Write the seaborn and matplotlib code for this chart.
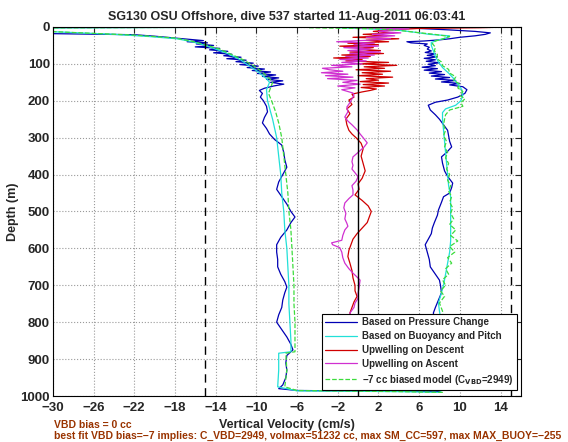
import pandas as pd
import matplotlib
matplotlib.use("Agg")
import matplotlib.pyplot as plt
import seaborn as sns

# ---- data (depth in m, velocity in cm/s) ----
# Based on Pressure Change (descent then ascent)
blue_depth = [0, 2, 16, 19, 21, 25, 30, 34, 37, 40, 43, 46, 50, 54, 58, 62, 66, 70, 74, 78,
              82, 86, 90, 94, 98, 102, 106, 110, 114, 118, 122, 126, 130, 134, 138, 142, 146,
              150, 155, 160, 166, 172, 180, 190, 200, 215, 230, 245, 260, 275, 290, 305, 320,
              340, 360, 380, 400, 420, 440, 460, 480, 500, 515, 530, 550, 570, 590, 610, 630,
              650, 670, 690, 705, 720, 740, 760, 780, 800, 820, 840, 860, 875, 890, 910, 930,
              950, 970, 980, 985, 987, 988,
              980, 950, 920, 890, 860, 830, 800, 775, 760, 740, 720, 700, 686, 670, 650, 630,
              610, 590, 575, 560, 545, 530, 510, 496, 475, 460, 450, 435, 423, 405, 390, 369,
              352, 340, 325, 310, 295, 280, 265, 250, 238, 225, 212, 204, 198, 190, 180, 170,
              162, 157, 153, 149, 145, 141, 137, 133, 129, 125, 121, 117, 113, 109, 105, 101,
              97, 93, 89, 85, 81, 77, 73, 69, 65, 60, 55, 50, 46, 43, 40, 38, 35, 32, 28, 24,
              20, 16, 12, 8, 4, 2]
blue_vel = [1, -36, -36, -28, -22, -20, -18, -16.5, -15.2, -16.8, -14.8, -15.9, -14.2, -16.0,
            -13.6, -14.6, -12.8, -14.2, -12.4, -13.2, -11.5, -12.9, -11.0, -12.0, -10.3, -11.6,
            -9.8, -10.9, -9.2, -10.4, -8.6, -9.9, -8.1, -9.4, -7.8, -9.0, -7.4, -8.6, -7.3,
            -8.3, -9.2, -9.7, -9.4, -9.6, -9.3, -9.0, -8.9, -9.2, -9.4, -9.0, -8.7, -8.2, -7.5,
            -7.3, -7.2, -7.0, -7.4, -7.8, -8.0, -7.5, -7.0, -6.6, -6.2, -6.6, -7.0, -7.6, -8.0,
            -8.0, -7.9, -7.9, -7.6, -7.2, -7.0, -7.2, -7.4, -7.5, -7.8, -8.0, -7.5, -7.0, -6.6,
            -6.4, -7.0, -7.1, -7.0, -7.1, -7.4, -7.8, -6.0, 3.0, 8.0,
            8.2, 8.5, 8.3, 8.0, 8.2, 7.8, 7.6, 7.4, 7.6, 7.9, 8.2, 8.1, 8.0, 7.6, 7.1, 7.0,
            6.8, 6.6, 6.9, 7.2, 7.3, 7.5, 7.8, 7.9, 8.2, 8.4, 9.0, 9.2, 9.3, 8.8, 8.5, 8.3,
            8.2, 8.7, 9.2, 9.0, 8.9, 8.8, 8.4, 8.0, 7.6, 7.1, 6.9, 7.6, 8.8, 9.8, 10.5, 10.7,
            10.3, 9.0, 10.0, 8.2, 9.6, 7.6, 9.0, 7.2, 8.5, 7.0, 8.2, 6.5, 7.8, 6.3, 7.6, 6.9,
            8.0, 6.7, 7.6, 6.5, 7.8, 6.8, 7.6, 6.6, 7.2, 6.8, 7.0, 6.5, 6.8, 5.2, 4.8, 6.5,
            8.0, 9.0, 10.0, 11.5, 12.5, 13.0, 11.5, 9.0, 6.0, 5.0]

# Based on Buoyancy and Pitch
cyan_depth = [0, 3, 10, 14, 20, 26, 32, 40, 50, 60, 70, 80, 90, 100, 120, 140, 150, 170, 200,
              250, 300, 350, 400, 450, 500, 550, 600, 650, 700, 750, 800, 850, 880, 884, 930,
              975, 986, 988, 990,
              985, 950, 900, 850, 800, 770, 748, 720, 700, 670, 640, 610, 580, 550, 520, 490,
              460, 430, 400, 370, 340, 310, 280, 250, 232, 222, 212, 200, 185, 170, 155, 140,
              125, 110, 95, 80, 65, 50, 42, 36, 30, 24, 20, 14, 9, 5, 2]
cyan_vel = [-2, -36, -33, -29, -24, -20.5, -17.8, -16.3, -15.0, -14.0, -13.0, -12.2, -11.5,
            -11.0, -9.9, -9.0, -8.7, -9.0, -8.9, -8.4, -8.0, -7.8, -7.6, -7.5, -7.3, -7.2, -7.0,
            -6.9, -6.8, -6.8, -6.7, -6.6, -6.6, -7.8, -7.8, -7.9, -6.0, 4.0, 8.0,
            8.2, 8.6, 8.6, 8.4, 8.2, 8.0, 7.9, 8.2, 8.4, 8.6, 8.8, 9.0, 9.1, 9.1, 9.1, 9.1,
            9.1, 8.9, 8.8, 8.7, 8.6, 8.5, 8.4, 8.3, 8.3, 8.6, 9.6, 10.1, 10.3, 10.2, 9.8, 9.4,
            8.9, 8.3, 7.9, 7.6, 7.4, 7.2, 7.2, 7.8, 8.6, 9.0, 7.0, 5.5, 4.0, 1.0, -2.0]

# Upwelling on Descent
red_depth = [0, 2, 4, 8, 12, 16, 20, 24, 28, 32, 36, 40, 44, 48, 52, 56, 60, 64, 68, 72, 76,
             80, 84, 88, 92, 96, 100, 104, 108, 112, 116, 120, 124, 128, 132, 136, 140, 144,
             148, 152, 156, 160, 164, 168, 172, 176, 182, 190, 198, 210, 222, 235, 250, 265,
             280, 290, 300, 315, 330, 350, 370, 390, 410, 425, 440, 455, 470, 485, 500, 515,
             530, 545, 560, 575, 590, 605, 622, 640, 660, 680, 700, 715, 730, 745, 760, 775,
             800, 840, 880, 920, 960, 985]
red_vel = [15.0, 12.0, 6.0, 3.0, 1.5, 3.5, 0.5, 2.8, -0.5, 4.0, 0.8, 3.0, -1.0, 2.0, -1.8,
           1.5, 0.0, 2.2, -0.8, 2.5, -1.6, 1.2, -2.4, 0.4, -1.2, 3.0, 0.2, 3.8, 0.6, 2.6,
           -0.2, 3.2, 0.4, 2.4, 0.0, 3.4, 0.8, 2.0, 0.2, 3.0, 0.5, 2.6, 0.3, 1.8, 1.2, 0.4,
           -0.6, -0.4, -0.9, -0.6, -1.1, -0.8, -1.2, -1.1, -0.9, -0.6, -0.2, 0.3, 0.5, 0.3,
           0.5, 0.7, 0.4, 0.0, 0.1, -0.3, 0.4, 1.0, 1.3, 1.1, 0.9, 0.4, -0.1, -0.5, -0.7,
           -0.9, -1.0, -0.8, -0.6, -0.5, -0.3, -0.3, -0.1, -0.4, -0.6, -0.8, -0.6, -0.3, 0.0,
           0.2, 0.0, 0.0]

# Upwelling on Ascent
mag_depth = [985, 950, 900, 850, 800, 775, 760, 748, 735, 722, 705, 686, 675, 667, 655, 640,
             625, 610, 598, 590, 585, 578, 565, 550, 540, 532, 520, 505, 490, 477, 465, 455,
             442, 430, 418, 406, 395, 385, 375, 365, 352, 340, 325, 314, 300, 290, 279, 265,
             255, 244, 230, 217, 205, 195, 185, 179, 170, 165, 160, 155, 150, 145, 140, 136,
             132, 128, 124, 120, 116, 112, 108, 104, 100, 96, 92, 88, 84, 80, 76, 72, 68, 64,
             60, 56, 52, 48, 44, 40, 36, 32, 28, 24, 20, 16, 12, 8, 5, 3, 1]
mag_vel = [0.0, 0.2, 0.0, -0.3, -0.6, -0.8, -0.4, -0.3, 0.0, 0.0, 0.1, 0.2, -0.2, -0.5, -0.9,
           -1.3, -1.5, -1.6, -1.8, -2.5, -2.6, -1.6, -1.5, -1.3, -1.0, -1.1, -1.3, -1.2, -1.4,
           -1.3, -0.9, -0.5, -0.5, -0.6, -0.2, 0.0, -0.3, -0.6, -0.5, -0.6, -0.5, 0.0, 0.6,
           0.9, 0.5, 0.2, -0.1, -0.6, -1.0, -1.3, -1.0, -1.1, -0.8, -0.6, -0.4, -0.5, -1.6,
           -0.3, -2.0, 0.2, -1.5, -0.1, -3.0, -0.5, -3.2, -1.0, -3.6, -1.5, -2.8, -3.5, -0.6,
           -2.6, 0.4, -1.6, 0.8, -1.8, 1.0, -1.2, 1.6, -0.8, 2.2, -1.0, 1.2, -1.4, 2.0, -0.4,
           1.6, -2.1, 1.0, 3.2, 0.8, 3.6, 1.4, 4.2, 2.0, 3.0, 5.0, 0.0, -1.0]

# -7 cc biased model
green_depth = [0, 3, 10, 15, 22, 30, 38, 50, 60, 70, 80, 90, 100, 110, 120, 130, 140, 150, 165,
               180, 200, 230, 260, 300, 350, 400, 450, 500, 550, 600, 650, 700, 750, 800, 850,
               880, 884, 930, 975, 985, 988, 990,
               988, 950, 900, 850, 800, 770, 748, 730, 715, 700, 685, 670, 655, 640, 625, 610,
               595, 580, 565, 550, 535, 520, 505, 490, 475, 460, 445, 430, 415, 400, 385, 370,
               355, 340, 325, 310, 295, 280, 265, 250, 238, 225, 215, 205, 195, 185, 175, 165,
               155, 145, 135, 125, 115, 105, 95, 85, 75, 65, 55, 45, 38, 32, 26, 20, 14, 9, 5, 2]
green_vel = [-6, -36, -32, -28, -22, -18, -16.4, -14.8, -13.6, -12.8, -12.0, -11.2, -10.6,
             -10.0, -9.5, -9.1, -8.7, -8.4, -8.6, -8.8, -8.5, -8.1, -7.8, -7.5, -7.3, -7.1,
             -6.9, -6.8, -6.6, -6.5, -6.4, -6.3, -6.3, -6.2, -6.2, -6.2, -7.1, -7.0, -7.2,
             -6.0, 4.0, 8.3,
             8.4, 8.8, 8.8, 8.6, 8.4, 8.3, 8.0, 8.5, 8.1, 8.6, 8.3, 8.9, 8.6, 9.2, 8.8, 9.5,
             9.0, 9.8, 9.1, 9.6, 9.0, 9.4, 9.1, 9.3, 9.0, 9.2, 8.9, 9.1, 8.8, 9.0, 8.7, 8.9,
             8.6, 8.8, 8.5, 8.7, 8.4, 8.6, 8.4, 8.5, 8.6, 9.0, 10.3, 10.1, 10.5, 10.0, 10.3,
             9.8, 10.0, 9.4, 9.6, 9.0, 8.9, 8.3, 8.2, 7.7, 7.8, 7.5, 7.6, 7.3, 7.6, 8.4, 9.0,
             7.5, 5.5, 4.0, 2.0, -5.0]

limit_lines = [-15, 15]
zero_line = 0

x_ticks = list(range(-30, 15, 4))
y_ticks = list(range(0, 1001, 100))

title = "SG130 OSU Offshore, dive 537 started 11-Aug-2011 06:03:41"
note1 = "VBD bias = 0 cc"
note2 = ("best fit VBD bias=\u22127 implies: C_VBD=2949, volmax=51232 cc, "
         "max SM_CC=597, max MAX_BUOY=\u2212255")

# ---- plot ----
sns.set_style("white")
plt.rcParams['font.family'] = ['Liberation Sans', 'DejaVu Sans']
plt.rcParams['font.weight'] = 'bold'

fig = plt.figure(figsize=(5.68, 4.42), dpi=100)
ax = fig.add_axes([0.093, 0.104, 0.824, 0.835])

series = [
    (blue_depth, blue_vel, '#0000b4', '-', 'Based on Pressure Change'),
    (cyan_depth, cyan_vel, '#22e0d8', '-', 'Based on Buoyancy and Pitch'),
    (red_depth, red_vel, '#d00000', '-', 'Upwelling on Descent'),
    (mag_depth, mag_vel, '#d030d0', '-', 'Upwelling on Ascent'),
    (green_depth, green_vel, '#3cdc3c', '--',
     '\u22127 cc biased model (C$_{\\mathbf{VBD}}$=2949)'),
]
for depth, vel, color, ls, label in series:
    df = pd.DataFrame({'vel': vel, 'depth': depth})
    sns.lineplot(data=df, x='vel', y='depth', sort=False, estimator=None, ax=ax,
                 color=color, linestyle=ls, linewidth=0.9, label=label)

for xv in limit_lines:
    ax.axvline(xv, color='black', linestyle=(0, (6, 4)), linewidth=1.0, zorder=5)
ax.axvline(zero_line, color='black', linewidth=1.0, zorder=5)

ax.set_xlim(-30, 16)
ax.set_ylim(1000, 0)
ax.set_xticks(x_ticks)
ax.set_yticks(y_ticks)
ax.tick_params(direction='in', top=True, right=True, length=4, width=0.8,
               labelsize=9.5)
ax.tick_params(axis='x', pad=4)
ax.tick_params(axis='y', pad=2)
ax.grid(True, linestyle=':', color='#9a9a9a', linewidth=0.8)
ax.set_axisbelow(True)
for s in ax.spines.values():
    s.set_color('black')
    s.set_linewidth(0.8)

ax.set_title(title, fontsize=9, fontweight='bold', pad=5)
ax.set_xlabel("Vertical Velocity (cm/s)", fontsize=9, fontweight='bold', labelpad=4)
ax.set_ylabel("Depth (m)", fontsize=9, fontweight='bold', labelpad=1)

leg = ax.legend(loc='lower right', bbox_to_anchor=(0.992, 0.016), borderaxespad=0,
                frameon=True, fancybox=False, edgecolor='black', framealpha=1,
                fontsize=7, handlelength=3.3, handletextpad=0.5, labelspacing=0.4,
                borderpad=0.35)
leg.get_frame().set_linewidth(0.8)

fig.text(0.095, 0.038, note1, color='#993300', fontsize=7.5, fontweight='bold', va='center')
fig.text(0.095, 0.014, note2, color='#993300', fontsize=7.5, fontweight='bold', va='center')

fig.savefig("out.png", dpi=100, facecolor='white')
